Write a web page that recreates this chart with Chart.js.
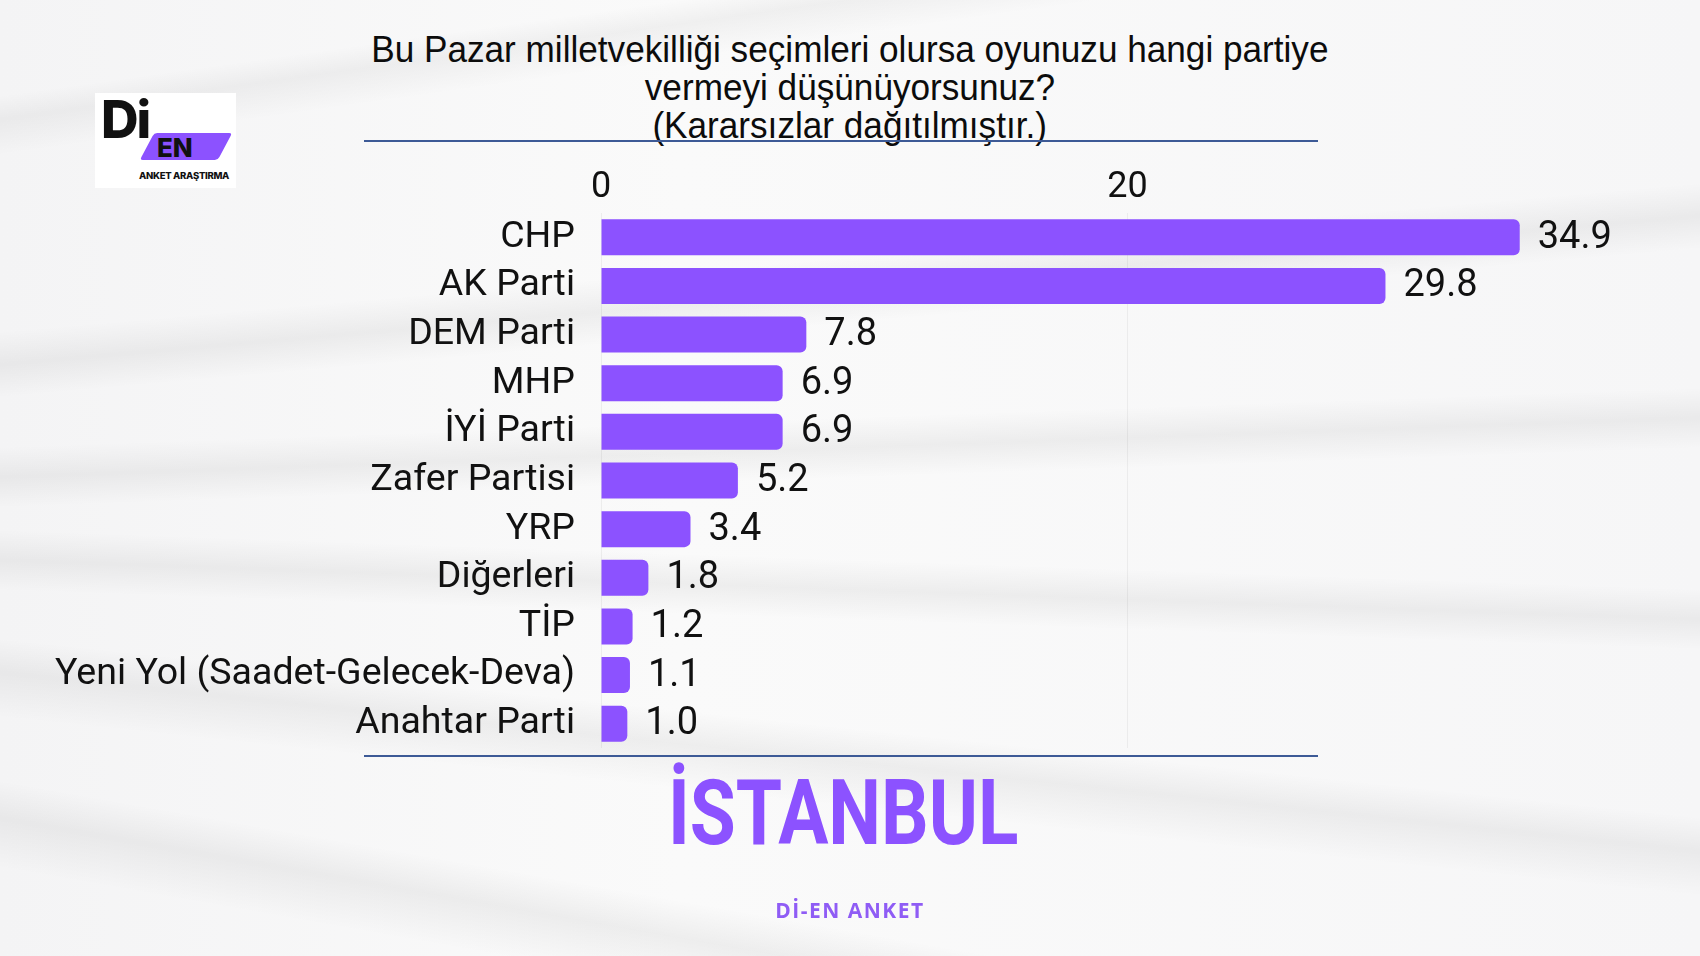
<!DOCTYPE html>
<html lang="tr">
<head>
<meta charset="utf-8">
<title>İstanbul – Di-En Anket</title>
<script src="https://cdn.jsdelivr.net/npm/chart.js@4/dist/chart.umd.min.js"></script>
<style>
    html, body {
        margin: 0;
        padding: 0;
    }

    body {
        width: 1700px;
        height: 956px;
        position: relative;
        overflow: hidden;
        font-family: "Liberation Sans", Arial, sans-serif;
        background:
            linear-gradient(172deg, transparent 0 8%, rgba(0, 0, 0, 0.045) 10%, transparent 13% 100%),
            linear-gradient(175deg, transparent 0 30%, rgba(0, 0, 0, 0.05) 33%, transparent 36% 100%),
            linear-gradient(178deg, transparent 0 44%, rgba(0, 0, 0, 0.05) 47%, transparent 50% 100%),
            linear-gradient(182deg, transparent 0 58%, rgba(0, 0, 0, 0.05) 61%, transparent 64% 100%),
            linear-gradient(186deg, transparent 0 72%, rgba(0, 0, 0, 0.05) 75%, transparent 79% 100%),
            linear-gradient(190deg, transparent 0 86%, rgba(0, 0, 0, 0.05) 89%, transparent 93% 100%),
            linear-gradient(90deg, #f4f4f5 0%, #fafafa 40%, #f6f6f7 100%);
    }

    #chart {
        position: absolute;
        left: 0;
        top: 0;
    }

    .title {
        position: absolute;
        left: 0;
        width: 1700px;
        top: 31px;
        text-align: center;
        font-size: 37px;
        line-height: 38px;
        color: #0c0c0c;
    }

    .title span {
        display: inline-block;
        transform: scaleX(0.95);
    }

    .rule {
        position: absolute;
        left: 364px;
        width: 954px;
        height: 2px;
        background: #3d5a96;
    }

    .city {
        position: absolute;
        left: 0;
        width: 1686px;
        top: 761px;
        text-align: center;
        font-family: Roboto, sans-serif;
        font-weight: 700;
        font-size: 90px;
        line-height: 106px;
        color: #8c52ff;
    }

    .city span {
        display: inline-block;
        transform: scaleX(0.83);
    }

    .source {
        position: absolute;
        left: 0;
        width: 1700px;
        top: 896px;
        text-align: center;
        font-family: "Open Sans", sans-serif;
        font-weight: 700;
        font-size: 21px;
        letter-spacing: 1.5px;
        color: #8f5cf5;
    }

    .logo {
        position: absolute;
        left: 95px;
        top: 93px;
        width: 141px;
        height: 95px;
        background: #fff;
    }

    .logo .di {
        position: absolute;
        left: 6px;
        top: 1px;
        font-family: Inter, sans-serif;
        font-weight: 800;
        font-size: 52px;
        line-height: 52px;
        letter-spacing: -2px;
        color: #111;
    }

    .logo .tag {
        position: absolute;
        left: 52px;
        top: 40px;
        width: 78px;
        height: 27px;
        background: #8c52ff;
        transform: skewX(-28deg);
        border-radius: 3px;
    }

    .logo .en {
        position: absolute;
        left: 62px;
        top: 41px;
        font-family: Inter, sans-serif;
        font-weight: 800;
        font-size: 26px;
        line-height: 28px;
        color: #111;
    }

    .logo .sub {
        position: absolute;
        left: 44px;
        top: 77px;
        font-family: Inter, sans-serif;
        font-weight: 800;
        font-size: 9.5px;
        letter-spacing: -0.3px;
        color: #111;
    }
</style>
</head>
<body>
<div class="logo">
    <div class="di">Di</div>
    <div class="tag"></div>
    <div class="en">EN</div>
    <div class="sub">ANKET ARAŞTIRMA</div>
</div>

<div class="title">
    <span>Bu Pazar milletvekilliği seçimleri olursa oyunuzu hangi partiye</span><br>
    <span>vermeyi düşünüyorsunuz?</span><br>
    <span>(Kararsızlar dağıtılmıştır.)</span>
</div>
<div class="rule" style="top: 140px;"></div>
<div class="rule" style="top: 755px;"></div>

<canvas id="chart" width="1700" height="956"></canvas>

<div class="city"><span>İSTANBUL</span></div>
<div class="source">Dİ-EN ANKET</div>

<script>
const parties = [
    "CHP",
    "AK Parti",
    "DEM Parti",
    "MHP",
    "İYİ Parti",
    "Zafer Partisi",
    "YRP",
    "Diğerleri",
    "TİP",
    "Yeni Yol (Saadet-Gelecek-Deva)",
    "Anahtar Parti",
];
const shares = [34.9, 29.8, 7.8, 6.9, 6.9, 5.2, 3.4, 1.8, 1.2, 1.1, 1.0];
const axisMax = 37;
const axisStep = 20;

const barColor = "#8c52ff";
const tickFont = { family: "Roboto", size: 36 };
const labelFont = { family: "Roboto", size: 37.5 };
const valueFont = { family: "Roboto", size: 38 };

// draws the share next to the end of every bar
const valueLabels = {
    id: "valueLabels",
    afterDatasetsDraw(chart) {
        const ctx = chart.ctx;
        const meta = chart.getDatasetMeta(0);

        ctx.save();
        ctx.font = `${valueFont.size}px ${valueFont.family}`;
        ctx.fillStyle = "#111";
        ctx.textAlign = "left";
        ctx.textBaseline = "middle";

        meta.data.forEach((bar, i) => {
            ctx.fillText(shares[i].toFixed(1), bar.x + 18, bar.y + 1);
        });

        ctx.restore();
    },
};

new Chart(document.getElementById("chart"), {
    type: "bar",
    data: {
        labels: parties,
        datasets: [
            {
                data: shares,
                backgroundColor: barColor,
                borderRadius: 6,
                barPercentage: 0.74,
                categoryPercentage: 1,
            },
        ],
    },
    options: {
        indexAxis: "y",
        responsive: false,
        animation: false,
        layout: {
            padding: { left: 0, right: 125, top: 133, bottom: 208 },
        },
        plugins: {
            legend: { display: false },
            tooltip: { enabled: false },
        },
        scales: {
            x: {
                position: "top",
                min: 0,
                max: axisMax,
                afterFit(scale) {
                    scale.height = 80;
                },
                ticks: {
                    stepSize: axisStep,
                    includeBounds: false,
                    padding: 3,
                    color: "#111",
                    font: tickFont,
                },
                grid: {
                    color: "rgba(0, 0, 0, 0.05)",
                    drawTicks: false,
                },
                border: { display: false },
            },
            y: {
                afterFit(scale) {
                    scale.width = 601;
                },
                ticks: {
                    padding: 18,
                    color: "#111",
                    font: labelFont,
                },
                grid: { display: false },
                border: { display: false },
            },
        },
    },
    plugins: [valueLabels],
});
</script>
</body>
</html>
